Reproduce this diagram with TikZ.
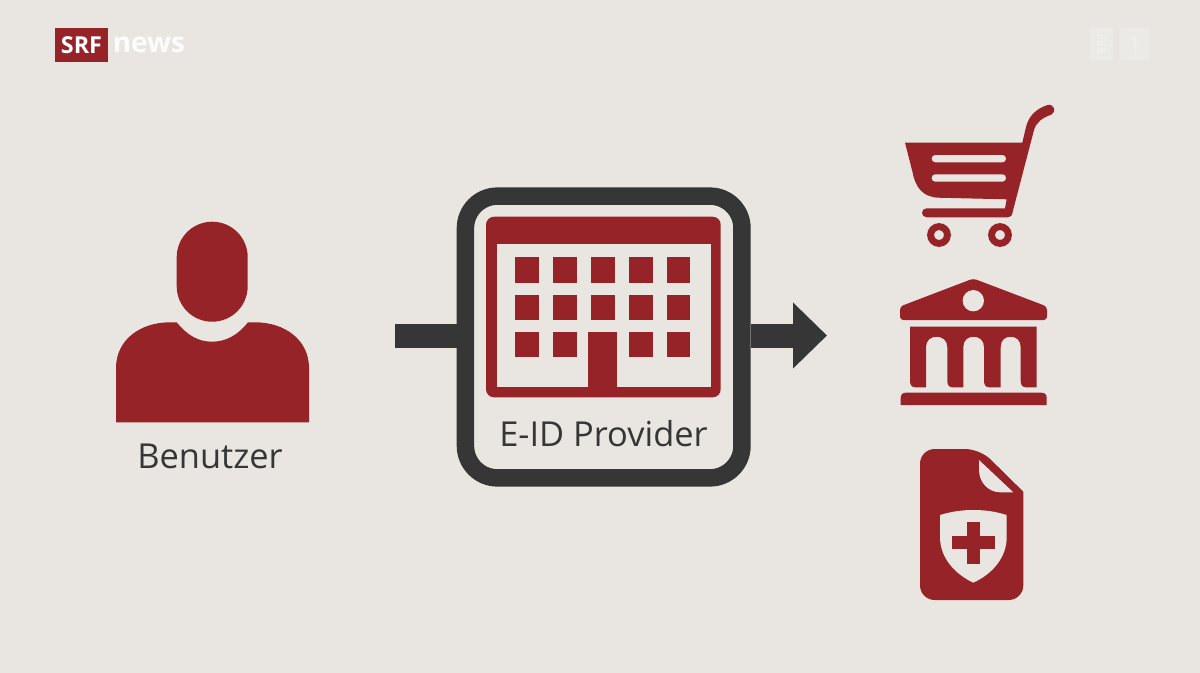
\documentclass[tikz,border=0pt]{standalone}
\usepackage{fontspec}
\setmainfont{Open Sans}
\usetikzlibrary{arrows.meta}
\definecolor{bgc}{HTML}{E9E6E2}
\definecolor{srfred}{HTML}{962328}
\definecolor{darkc}{HTML}{363636}
\definecolor{wmark}{HTML}{ECEAE6}
\definecolor{wmtext}{HTML}{F1EFEC}
\tikzset{
  label text/.style={text=darkc,font=\fontsize{25.8}{30}\selectfont,inner sep=0pt},
  icon/.style={fill=srfred,draw=none},
  hole/.style={fill=bgc,draw=none},
  connector/.style={draw=darkc,line width=18pt},
}
\begin{document}
\begin{tikzpicture}[x=0.75pt,y=-0.75pt]
\useasboundingbox (0,0) rectangle (1200,672);
\fill[bgc] (-5,-5) rectangle (1205,677);

% broadcaster logo
\node[fill=srfred,minimum width=39.3pt,minimum height=25.7pt,inner sep=0pt,text=white,font=\bfseries\fontsize{17.5}{22}\selectfont] (logo) at (81.5,45.2) {SRF};
\node[anchor=west,inner sep=0pt,text=white!90!bgc,font=\bfseries\fontsize{21}{24}\selectfont] (news) at (112.5,44.5) {news};
% faint watermark
\node[fill=wmark,rounded corners=2pt,minimum width=17pt,minimum height=25pt,inner sep=0pt] (wm1) at (1101.5,44) {};
\node[text=wmtext,font=\bfseries\fontsize{9}{12}\selectfont,rotate=90,inner sep=0pt] (wm1t) at (1101.5,44) {SRF};
\node[fill=wmark,rounded corners=2pt,minimum width=22pt,minimum height=25pt,inner sep=0pt,text=wmtext,font=\fontsize{18}{20}\selectfont] (wm2) at (1135,44) {1};

% user
\fill[icon,rounded corners=26.6pt] (176.7,221.7) rectangle (247.7,321.7);
\fill[icon] (116,422.3) -- (116,368) .. controls (116,340) and (140,322.3) .. (170,322.3)
  -- (176.7,322.3) .. controls (187,335) and (198,341.7) .. (212,341.7)
  .. controls (226,341.7) and (238,335) .. (248,322.3)
  -- (255,322.3) .. controls (285,322.3) and (309,340) .. (309,368) -- (309,422.3) -- cycle;
\node[label text] (user) at (210,456) {Benutzer};

% provider box
\coordinate (inp) at (395,335.5);
\coordinate (outp) at (827,335.5);
\node[draw=darkc,line width=13.1pt,rounded corners=24pt,minimum width=207.4pt,minimum height=211.3pt,inner sep=0pt] (box) at (603.7,337) {};
\draw[connector] (inp) -- (box.west |- inp);
\draw[connector,-{Triangle[length=25.5pt,width=48pt]}] (box.east |- outp) -- (outp);
% building
\fill[icon,rounded corners=6pt] (486,216.7) rectangle (720.7,397.3);
\fill[hole] (497.3,244.3) rectangle (710.7,386.7);
\foreach \xa in {515,553,591,629,666.7}{
  \foreach \ya in {257.3,294.7,331.7}{
    \fill[icon] (\xa,\ya) rectangle ++(23.7,25.5);
  }
}
\fill[icon] (587.7,331.7) rectangle (617.3,387);
\node[label text] (prov) at (603.5,434) {E-ID Provider};

% shopping cart
\fill[icon] (905,142.7) -- (1022.3,142.7) -- (1026,127)
  .. controls (1029,115) and (1037,108.5) .. (1047.5,105)
  .. controls (1054,103.5) and (1057,112) .. (1051.5,114.5)
  .. controls (1042,118) and (1036.5,122) .. (1034,130)
  -- (1012.7,211.7) .. controls (1012,215.5) and (1011,217.3) .. (1008,217.3)
  -- (926.7,217.3) .. controls (920.5,217.3) and (920.5,208.3) .. (926.7,208.3)
  -- (1005,208.3) -- (1006.7,199.3) -- (938,197.7)
  .. controls (922,197) and (915,186) .. (912.5,172)
  -- cycle;
\fill[hole,rounded corners=2.7pt] (931.7,155) rectangle (1006,162.3);
\fill[hole,rounded corners=2.7pt] (931.7,174.3) rectangle (1006,181.7);
\draw[srfred,line width=5.2pt] (939,235) circle[radius=6.3pt];
\draw[srfred,line width=5.2pt] (1000,235) circle[radius=6.3pt];

% bank
\fill[icon,rounded corners=2.5pt] (973.3,278.5) -- (1047,306.5) -- (1047,320) -- (900,320) -- (900,306.5) -- cycle;
\fill[hole] (973.3,300.7) circle[radius=8pt];
\fill[icon] (910,326.7) -- (1036.7,326.7) -- (1036.7,387.3)
  -- (1026,387.3) .. controls (1022.5,387.3) and (1020.7,385) .. (1020.7,381)
  -- (1020.7,347) .. controls (1020.7,340) and (1016,336.7) .. (1010.7,336.7)
  .. controls (1005,336.7) and (1000.7,340) .. (1000.7,347) -- (1000.7,387.3)
  -- (989.3,387.3) .. controls (985.8,387.3) and (984,385) .. (984,381)
  -- (984,347) .. controls (984,340) and (979,336.7) .. (973.7,336.7)
  .. controls (968,336.7) and (963.3,340) .. (963.3,347) -- (963.3,387.3)
  -- (952.6,387.3) .. controls (949.1,387.3) and (947.3,385) .. (947.3,381)
  -- (947.3,347) .. controls (947.3,340) and (942,336.7) .. (936.7,336.7)
  .. controls (931,336.7) and (926,340) .. (926,347) -- (926,387.3)
  -- (915.3,387.3) .. controls (911.8,387.3) and (910,385) .. (910,381) -- cycle;
\fill[icon] (900.7,405) -- (900.7,398) .. controls (900.7,394.5) and (902.5,392.7) .. (906,392.7)
  -- (1041.4,392.7) .. controls (1044.9,392.7) and (1046.7,394.5) .. (1046.7,398) -- (1046.7,405) -- cycle;

% health document
\fill[icon,rounded corners=11pt] (920,600) -- (920,449) -- (980,449) [sharp corners] -- (1023.3,491.7) [rounded corners=11pt] -- (1023.3,600) -- cycle;
\fill[hole] (979,460) -- (1013.3,492.3) -- (1000,492.3) .. controls (988,492) and (979,482) .. (979,470) -- cycle;
\fill[hole] (973.3,510) .. controls (960,510) and (950,512) .. (940,515) -- (940,537)
  .. controls (940,558) and (955,574) .. (973.3,582.7)
  .. controls (992,574) and (1006.7,558) .. (1006.7,537) -- (1006.7,515)
  .. controls (997,512) and (987,510) .. (973.3,510) -- cycle;
\fill[icon] (967.3,521.7) rectangle (979.7,564);
\fill[icon] (951.7,536) rectangle (995,549.3);
\end{tikzpicture}
\end{document}
